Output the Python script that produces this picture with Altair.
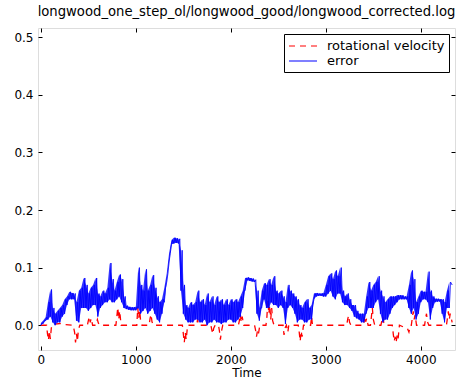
import altair as alt
import pandas as pd

# ---- data ----
# error series: lower / upper envelope every 25 time units (lower at t, upper at t+12.5)
err_step = 25
err_lo = [0.0, 0.003, 0.008, 0.01, 0.015, 0.005, 0.0, 0.005, 0.005, 0.015,
          0.02, 0.035, 0.045, 0.045, 0.045, 0.008, 0.005, 0.03, 0.03, 0.03,
          0.025, 0.03, 0.035, 0.035, 0.015, 0.03, 0.035, 0.04, 0.04, 0.045,
          0.04, 0.04, 0.045, 0.05, 0.04, 0.03, 0.028, 0.027, 0.026, 0.026,
          0.026, 0.03, 0.02, 0.025, 0.03, 0.02, 0.025, 0.03, 0.02, 0.01,
          0.005, 0.02, 0.04, 0.075, 0.11, 0.14, 0.142, 0.143, 0.142, 0.06,
          0.02, 0.01, 0.005, 0.005, 0.005, 0.01, 0.01, 0.005, 0.005, 0.01,
          0.0, 0.005, 0.005, 0.01, 0.005, 0.005, 0.002, 0.005, 0.005, 0.01,
          0.01, 0.005, 0.005, 0.01, 0.015, 0.03, 0.06, 0.078, 0.077, 0.076,
          0.075, 0.02, 0.008, 0.03, 0.045, 0.03, 0.03, 0.04, 0.035, 0.035,
          0.03, 0.035, 0.03, 0.002, 0.03, 0.035, 0.03, 0.02, 0.005, 0.01,
          0.01, 0.005, 0.005, 0.01, 0.01, 0.045, 0.05, 0.051, 0.051, 0.05,
          0.05, 0.055, 0.06, 0.05, 0.045, 0.055, 0.055, 0.04, 0.035, 0.035,
          0.03, 0.025, 0.015, 0.012, 0.01, 0.005, 0.005, 0.02, 0.03, 0.03,
          0.03, 0.04, 0.045, 0.02, 0.005, 0.01, 0.01, 0.02, 0.03, 0.035,
          0.04, 0.045, 0.045, 0.045, 0.045, 0.03, 0.02, 0.03, 0.01, 0.02,
          0.04, 0.045, 0.045, 0.04, 0.01, 0.03, 0.04, 0.041, 0.041, 0.02,
          0.005, 0.03, 0.03]
err_hi = [0.004, 0.008, 0.014, 0.04, 0.062, 0.03, 0.02, 0.025, 0.03, 0.035,
          0.045, 0.05, 0.058, 0.056, 0.055, 0.04, 0.06, 0.065, 0.082, 0.07,
          0.055, 0.065, 0.07, 0.082, 0.055, 0.05, 0.06, 0.055, 0.065, 0.108,
          0.08, 0.06, 0.075, 0.088, 0.08, 0.05, 0.034, 0.032, 0.031, 0.031,
          0.032, 0.1, 0.07, 0.06, 0.097, 0.06, 0.07, 0.087, 0.065, 0.05,
          0.04, 0.045, 0.065, 0.09, 0.125, 0.148, 0.152, 0.151, 0.15, 0.13,
          0.07, 0.035, 0.03, 0.04, 0.035, 0.04, 0.06, 0.04, 0.045, 0.035,
          0.055, 0.04, 0.05, 0.035, 0.05, 0.04, 0.045, 0.035, 0.045, 0.035,
          0.045, 0.04, 0.045, 0.04, 0.05, 0.06, 0.082, 0.083, 0.082, 0.081,
          0.079, 0.06, 0.03, 0.06, 0.073, 0.07, 0.08, 0.07, 0.085, 0.06,
          0.055, 0.06, 0.05, 0.04, 0.07, 0.06, 0.055, 0.05, 0.045, 0.035,
          0.03, 0.04, 0.045, 0.03, 0.035, 0.055, 0.056, 0.055, 0.055, 0.056,
          0.07, 0.085, 0.09, 0.08, 0.095, 0.085, 0.1, 0.06, 0.05, 0.055,
          0.045, 0.035, 0.035, 0.025, 0.02, 0.02, 0.02, 0.05, 0.075, 0.06,
          0.07, 0.075, 0.085, 0.06, 0.05, 0.04, 0.045, 0.05, 0.05, 0.05,
          0.052, 0.052, 0.052, 0.05, 0.05, 0.07, 0.095, 0.08, 0.04, 0.05,
          0.06, 0.058, 0.058, 0.093, 0.06, 0.05, 0.046, 0.046, 0.045, 0.045,
          0.04, 0.06, 0.075]
err_end_t = 4330
err_end_v = 0.07

# rotational velocity: (time, value) pairs
rot_t = [0, 60, 70, 80, 90, 100, 110, 120, 150, 200, 250,
         340, 355, 365, 375, 385, 395, 410,
         490, 500, 510, 520, 530, 545,
         580, 595, 605, 620,
         790, 800, 810, 820, 830, 845,
         1010, 1020, 1030, 1040, 1050, 1065,
         1140, 1150, 1160, 1170, 1185,
         1490, 1500, 1510, 1520, 1530, 1545,
         1640, 1650, 1660,
         1790, 1800, 1810, 1820, 1835,
         1870, 1880, 1890, 1900, 1915,
         2080, 2090, 2100, 2110, 2120, 2135,
         2250, 2260, 2270, 2280, 2290, 2305,
         2370, 2380, 2390, 2400, 2410, 2420, 2430, 2440, 2455,
         2550, 2560, 2570, 2585, 2600, 2610,
         2710, 2720, 2730, 2740, 2750, 2765,
         2840, 2850, 2860,
         3220, 3230, 3240, 3250, 3265,
         3400, 3410, 3420, 3430, 3445,
         3470, 3480, 3490, 3500, 3515,
         3580, 3590, 3600, 3610, 3625,
         3700, 3710, 3720, 3730, 3740, 3750, 3760, 3775,
         3860, 3875, 3890,
         3900, 3910, 3920, 3930, 3940, 3955,
         4040, 4050, 4060, 4070, 4085,
         4270, 4280, 4290, 4300, 4310, 4330]
rot_v = [0, 0, -0.015, -0.026, -0.01, -0.024, -0.005, 0, 0.002, 0.003, 0.001,
         0, -0.012, -0.03, -0.015, -0.028, -0.008, 0,
         0, 0.008, 0.015, 0.005, 0.012, 0,
         0, 0.01, 0.004, 0,
         0, 0.015, 0.031, 0.01, 0.025, 0,
         0, 0.03, 0.012, 0.026, 0.008, 0,
         0, 0.012, 0.019, 0.006, 0,
         0, -0.015, -0.03, -0.012, -0.025, 0,
         0, 0.01, 0,
         0, -0.008, -0.015, -0.005, 0,
         0, -0.01, -0.025, -0.012, 0,
         0, 0.008, 0.019, 0.005, 0.015, 0,
         0, -0.008, -0.02, -0.01, -0.016, 0,
         0, 0.015, 0.044, 0.02, 0.035, 0.01, 0.03, 0.008, 0,
         0, -0.017, -0.005, 0, -0.012, 0,
         0, -0.012, -0.028, -0.01, -0.02, 0,
         0, 0.015, 0,
         0, 0.01, 0.017, 0.005, 0,
         0, 0.017, 0.006, 0.012, 0,
         0, 0.015, 0.03, 0.01, 0,
         0, 0.008, 0.015, 0.005, 0,
         0, -0.015, -0.028, -0.02, -0.03, -0.018, -0.025, 0,
         -0.006, -0.012, 0,
         0, 0.012, 0.024, 0.01, 0.018, 0,
         0, 0.012, 0.02, 0.006, 0,
         0, 0.012, 0.024, 0.01, 0.02, 0.005]

series_names = ["rotational velocity", "error"]
series_colors = ["#ff0000", "#0000ff"]
x_ticks = [0, 1000, 2000, 3000, 4000]
y_ticks = [0.0, 0.1, 0.2, 0.3, 0.4, 0.5]
title_text = "longwood_one_step_ol/longwood_good/longwood_corrected.log"

# ---- build tables ----
err_t = [i * err_step for i in range(len(err_lo))]
err_rows = []
for t, lo, hi in zip(err_t, err_lo, err_hi):
    err_rows.append({"t": t, "v": lo})
    err_rows.append({"t": t + err_step / 2, "v": hi})
err_rows.append({"t": err_end_t, "v": err_end_v})
err_df = pd.DataFrame(err_rows)
err_df["series"] = "error"

band_df = pd.DataFrame({"t": err_t, "lo": err_lo, "hi": err_hi})

rot_df = pd.DataFrame({"t": rot_t, "v": rot_v})
rot_df["series"] = "rotational velocity"

W, H = 417, 322
FONT = "DejaVu Sans"
xscale = alt.Scale(domain=[-30, 4360], nice=False, zero=False)
yscale = alt.Scale(domain=[-0.043, 0.516], nice=False, zero=False)
cscale = alt.Scale(domain=series_names, range=series_colors)
dscale = alt.Scale(domain=series_names, range=[[6, 5], [1, 0]])

legend = alt.Legend(
    title=None, orient="top-right", offset=6, symbolType="M-1,0H3",
    symbolSize=196, symbolStrokeWidth=1.2, symbolFillColor="transparent",
    labelFontSize=13, labelFont=FONT, labelExpr="datum.label + '\u2002\u2002'",
    labelColor="black", strokeColor="black", fillColor="white", padding=4,
    rowPadding=0, labelOffset=23, cornerRadius=0, symbolOpacity=1,
)

def ax_main_x():
    return alt.Axis(values=x_ticks, format="d", tickSize=0, domain=False, grid=False,
                    labelPadding=4, title="Time", titleFontWeight="normal",
                    titleFontSize=12, titleFont=FONT, titlePadding=2,
                    labelFont=FONT, labelFontSize=12, labelColor="black", titleColor="black")

def ax_main_y():
    return alt.Axis(values=y_ticks, format=".1f", tickSize=0, domain=False, grid=False,
                    labelPadding=5, title=None, labelFont=FONT, labelFontSize=12,
                    labelColor="black")

def ax_tick(orient, offset):
    return alt.Axis(orient=orient, offset=offset, values=(x_ticks if orient in ("top", "bottom") else y_ticks),
                    labels=False, tickSize=4, tickColor="black", tickWidth=1,
                    domain=False, grid=False, title=None)

red = alt.Chart(rot_df).mark_line(strokeWidth=1.3, clip=True).encode(
    x=alt.X("t:Q", scale=xscale, axis=ax_main_x()),
    y=alt.Y("v:Q", scale=yscale, axis=ax_main_y()),
    color=alt.Color("series:N", scale=cscale, legend=legend),
    strokeDash=alt.StrokeDash("series:N", scale=dscale, legend=legend),
)

band = alt.Chart(band_df).mark_area(color="#0000ff", opacity=0.8, clip=True).encode(
    x=alt.X("t:Q", scale=xscale, axis=None),
    y=alt.Y("lo:Q", scale=yscale, axis=None),
    y2="hi:Q",
)

blue = alt.Chart(err_df).mark_line(strokeWidth=1, clip=True).encode(
    x=alt.X("t:Q", scale=xscale, axis=ax_tick("top", -H)),
    y=alt.Y("v:Q", scale=yscale, axis=ax_tick("right", -W)),
    color=alt.Color("series:N", scale=cscale, legend=legend),
    strokeDash=alt.StrokeDash("series:N", scale=dscale, legend=legend),
)

ghost = alt.Chart(rot_df).mark_line(opacity=0).encode(
    x=alt.X("t:Q", scale=xscale, axis=ax_tick("bottom", -H)),
    y=alt.Y("v:Q", scale=yscale, axis=ax_tick("left", -W)),
)

chart = alt.layer(red, band, blue, ghost).resolve_axis(x="independent", y="independent").properties(
    width=W, height=H,
    title=alt.TitleParams(title_text, font=FONT, fontSize=13.2, fontWeight="normal",
                          color="black", offset=8, anchor="middle"),
    autosize=alt.AutoSizeParams(type="none"),
    padding={"left": 38, "top": 28, "right": 1, "bottom": 33},
).configure_view(stroke="black", strokeWidth=1).configure(background="white")

chart.save("out.html", embed_options={"renderer": "svg", "actions": False})
